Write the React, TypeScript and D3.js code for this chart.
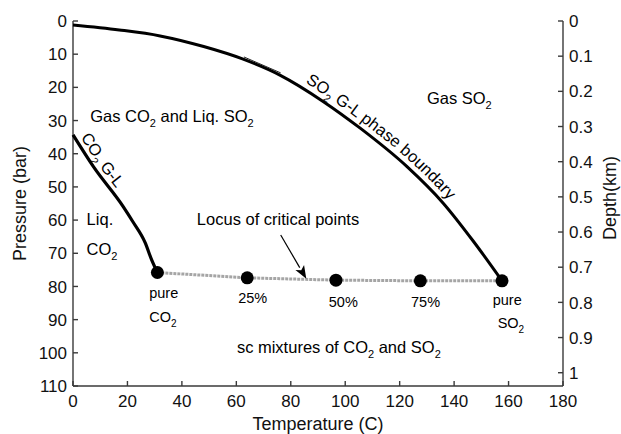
import React from 'react';
import * as d3 from 'd3';

const W = 621;
const H = 434;
const PLOT = { left: 73, right: 563, top: 21, bottom: 386 };

// axis ticks
const xTicks = [0, 20, 40, 60, 80, 100, 120, 140, 160, 180];
const yTicks = [0, 10, 20, 30, 40, 50, 60, 70, 80, 90, 100, 110];
const depthTicks = [0, 0.1, 0.2, 0.3, 0.4, 0.5, 0.6, 0.7, 0.8, 0.9, 1];
const depthTickLabels = ['0', '0.1', '0.2', '0.3', '0.4', '0.5', '0.6', '0.7', '0.8', '0.9', '1'];

// SO2 gas-liquid phase boundary (T in C, P in bar)
const so2T = [0, 17, 32, 48, 62.5, 76, 92, 105.5, 122.7, 136, 147, 157.6];
const so2P = [1.2, 2.7, 4.5, 7.7, 11.5, 16.3, 24.3, 32.3, 43.9, 54.9, 66.3, 78.3];

// CO2 gas-liquid phase boundary
const co2T = [0, 7.5, 18.5, 22, 26.5, 28.9, 31];
const co2P = [34.3, 43.9, 56, 60.5, 66.8, 72, 75.8];

// locus of critical points
const critT = [31, 64, 96.6, 127.6, 157.6];
const critP = [75.8, 77.4, 78.1, 78.3, 78.3];

const x = d3.scaleLinear().domain([0, 180]).range([PLOT.left, PLOT.right]);
const y = d3.scaleLinear().domain([0, 110]).range([PLOT.top, PLOT.bottom]);
const yDepth = d3.scaleLinear().domain([0, 110 / 106]).range([PLOT.top, PLOT.bottom]);

const FONT = '"Liberation Sans", Arial, sans-serif';

function polyLen(pts: [number, number][], upToX: number) {
  let len = 0;
  for (let i = 1; i < pts.length; i++) {
    const [x0, y0] = pts[i - 1];
    const [x1, y1] = pts[i];
    if (x1 <= upToX) {
      len += Math.hypot(x1 - x0, y1 - y0);
    } else {
      const f = (upToX - x0) / (x1 - x0);
      if (f > 0) len += f * Math.hypot(x1 - x0, y1 - y0);
      break;
    }
  }
  return len;
}

// segments: strings; a segment starting with "_" is a subscript
function rich(parts: string[], subSize = 11, baseDy = 0) {
  const out: React.ReactNode[] = [];
  let shifted = false;
  parts.forEach((p, i) => {
    const extra = i === 0 ? baseDy : 0;
    if (p.startsWith('_')) {
      const d = (shifted ? 0 : 5) + extra;
      out.push(
        <tspan key={i} dy={d !== 0 ? d : undefined} fontSize={subSize}>
          {p.slice(1)}
        </tspan>
      );
      shifted = true;
    } else {
      const d = (shifted ? -5 : 0) + extra;
      out.push(
        <tspan key={i} dy={d !== 0 ? d : undefined}>
          {p}
        </tspan>
      );
      shifted = false;
    }
  });
  return out;
}

export default function App() {
  const line = d3
    .line<[number, number]>()
    .x((d) => x(d[0]))
    .y((d) => y(d[1]))
    .curve(d3.curveMonotoneX);
  const so2Pts: [number, number][] = so2T.map((t, i) => [t, so2P[i]]);
  const co2Pts: [number, number][] = co2T.map((t, i) => [t, co2P[i]]);
  const critPts: [number, number][] = critT.map((t, i) => [t, critP[i]]);
  const so2Px: [number, number][] = so2Pts.map((d) => [x(d[0]), y(d[1])]);
  const so2LabelStart = polyLen(so2Px, x(84));

  const linear = d3
    .line<[number, number]>()
    .x((d) => x(d[0]))
    .y((d) => y(d[1]));

  // small doubled segment on SO2 curve
  const dblPts = so2Pts.filter((d) => d[0] >= 62 && d[0] <= 77);

  const arrowFrom: [number, number] = [76.3, 64.5];
  const arrowTo: [number, number] = [85.7, 77.7];
  const ax0 = x(arrowFrom[0]);
  const ay0 = y(arrowFrom[1]);
  const ax1 = x(arrowTo[0]);
  const ay1 = y(arrowTo[1]);
  const ang = Math.atan2(ay1 - ay0, ax1 - ax0);
  const hl = 13;
  const hw = 5;
  const bx = ax1 - hl * Math.cos(ang);
  const by = ay1 - hl * Math.sin(ang);
  const head = `M${ax1},${ay1} L${bx + hw * Math.sin(ang)},${by - hw * Math.cos(ang)} L${bx + 3 * Math.cos(ang)},${by + 3 * Math.sin(ang)} L${bx - hw * Math.sin(ang)},${by + hw * Math.cos(ang)} Z`;

  const axisColor = '#3a3a3a';
  const tickFs = 17;
  const labFs = 16.5;
  const smallFs = 14.5;

  return (
    <svg
      width={W}
      height={H}
      style={{ position: 'absolute', left: 0, top: 0, background: '#fff' }}
      fontFamily={FONT}
    >
      <defs>
        <path id="so2path" d={line(so2Pts) || ''} />
        <path id="co2path" d={line(co2Pts) || ''} />
      </defs>

      {/* axes */}
      <g stroke={axisColor} strokeWidth={1.4} fill="none">
        <line x1={PLOT.left} y1={PLOT.top} x2={PLOT.left} y2={PLOT.bottom} />
        <line x1={PLOT.left} y1={PLOT.bottom} x2={PLOT.right} y2={PLOT.bottom} />
        <line x1={PLOT.right} y1={PLOT.top} x2={PLOT.right} y2={PLOT.bottom} />
        {yTicks.map((t) => (
          <line key={'yt' + t} x1={PLOT.left} x2={PLOT.left + 5} y1={y(t)} y2={y(t)} />
        ))}
        {xTicks.map((t) => (
          <line key={'xt' + t} x1={x(t)} x2={x(t)} y1={PLOT.bottom} y2={PLOT.bottom - 5} />
        ))}
        {depthTicks.map((t) => (
          <line key={'dt' + t} x1={PLOT.right} x2={PLOT.right - 5} y1={yDepth(t)} y2={yDepth(t)} />
        ))}
      </g>
      <g fontSize={tickFs} fill="#111">
        {yTicks.map((t) => (
          <text key={'yl' + t} x={PLOT.left - 6} y={y(t)} dy="0.36em" textAnchor="end">
            {t}
          </text>
        ))}
        {xTicks.map((t) => (
          <text key={'xl' + t} x={x(t)} y={PLOT.bottom + 21} textAnchor="middle">
            {t}
          </text>
        ))}
        {depthTicks.map((t, i) => (
          <text key={'dl' + t} x={PLOT.right + 6} y={yDepth(t)} dy="0.36em" textAnchor="start">
            {depthTickLabels[i]}
          </text>
        ))}
      </g>
      <text x={(PLOT.left + PLOT.right) / 2} y={430} fontSize={18} textAnchor="middle" fill="#111">
        Temperature (C)
      </text>
      <text
        transform={`translate(26,${(PLOT.top + PLOT.bottom) / 2}) rotate(-90)`}
        fontSize={18}
        textAnchor="middle"
        fill="#111"
      >
        Pressure (bar)
      </text>
      <text
        transform={`translate(616,${198}) rotate(-90)`}
        fontSize={18}
        textAnchor="middle"
        fill="#111"
      >
        Depth(km)
      </text>

      {/* curves */}
      <path d={line(so2Pts) || ''} fill="none" stroke="#000" strokeWidth={3} />
      <path
        d={linear(dblPts) || ''}
        fill="none"
        stroke="#222"
        strokeWidth={1}
        transform="translate(0.8,-2.2)"
      />
      <path d={line(co2Pts) || ''} fill="none" stroke="#000" strokeWidth={3.2} />
      <path
        d={linear(critPts) || ''}
        fill="none"
        stroke="#a5a5a5"
        strokeWidth={3}
        strokeDasharray="3 1"
      />
      {critPts.map((d, i) => (
        <circle key={'c' + i} cx={x(d[0])} cy={y(d[1])} r={6.5} fill="#000" />
      ))}

      {/* arrow */}
      <line x1={ax0} y1={ay0} x2={bx} y2={by} stroke="#000" strokeWidth={1.2} />
      <path d={head} fill="#000" />

      {/* curve labels */}
      <text fontSize={labFs} fill="#000">
        <textPath href="#so2path" startOffset={so2LabelStart}>
          {rich(['SO', '_2', ' G-L phase boundary'], 11, -6)}
        </textPath>
      </text>
      <text fontSize={labFs} fill="#000">
        <textPath href="#co2path" startOffset={6}>
          {rich(['CO', '_2', ' G-L'], 11, -5)}
        </textPath>
      </text>

      {/* region labels */}
      <g fontSize={labFs} fill="#000">
        <text x={x(6.3)} y={y(30.5)}>
          {rich(['Gas CO', '_2', ' and Liq. SO', '_2'])}
        </text>
        <text x={x(130)} y={y(25)}>
          {rich(['Gas SO', '_2'])}
        </text>
        <text x={x(5)} y={y(61.5)}>Liq.</text>
        <text x={x(5)} y={y(70.5)}>
          {rich(['CO', '_2'])}
        </text>
        <text x={x(45.5)} y={y(61.5)}>Locus of critical points</text>
        <text x={x(60.2)} y={y(100)}>
          {rich(['sc mixtures of CO', '_2', ' and SO', '_2'])}
        </text>
      </g>
      <g fontSize={smallFs} fill="#000">
        <text x={x(28)} y={y(83.5)}>pure</text>
        <text x={x(28)} y={y(90.7)}>
          {rich(['CO', '_2'], 10)}
        </text>
        <text x={x(66)} y={y(85)} textAnchor="middle">25%</text>
        <text x={x(99.3)} y={y(86.2)} textAnchor="middle">50%</text>
        <text x={x(129.5)} y={y(86.2)} textAnchor="middle">75%</text>
        <text x={x(159.5)} y={y(85.6)} textAnchor="middle">pure</text>
        <text x={x(156)} y={y(92.5)}>
          {rich(['SO', '_2'], 10)}
        </text>
      </g>
    </svg>
  );
}
